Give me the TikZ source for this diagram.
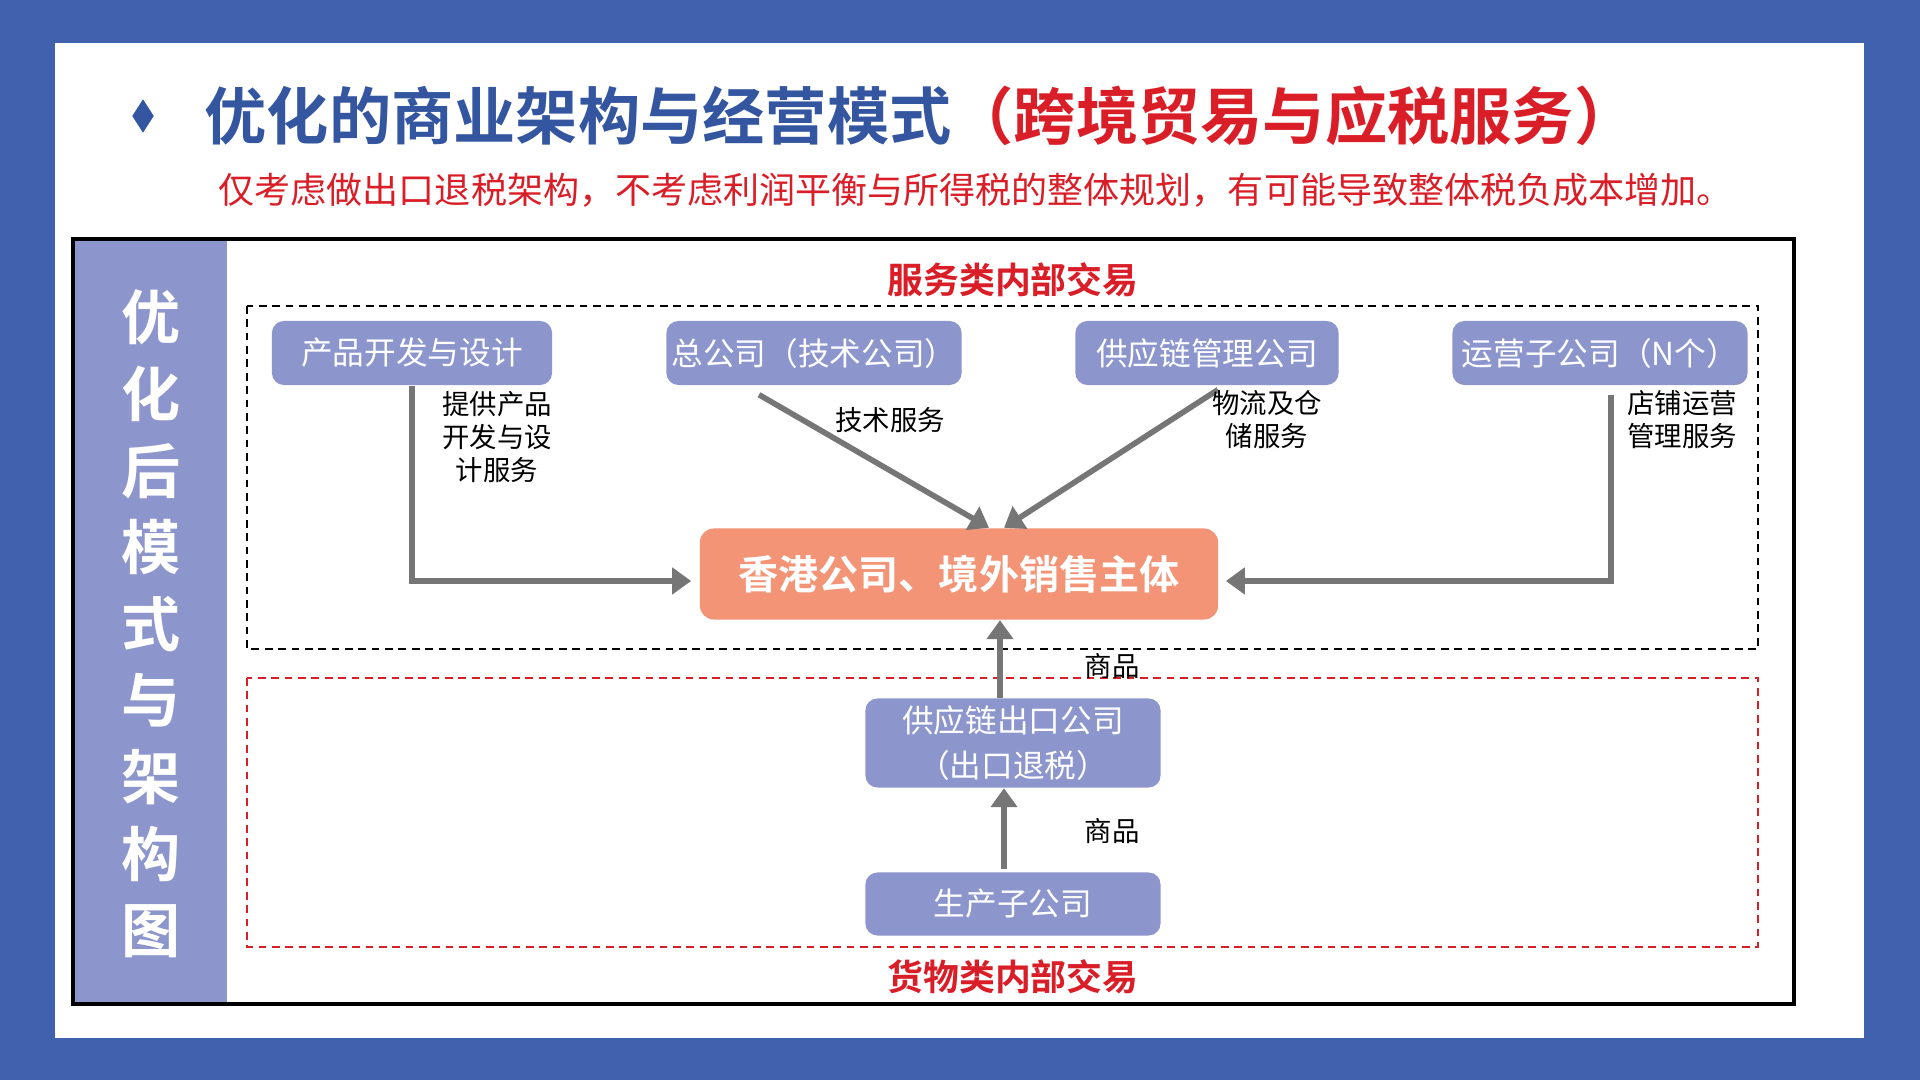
\documentclass[tikz,border=0pt]{standalone}
\usepackage{fontspec}
\setmainfont{Noto Sans CJK SC}[BoldFont={Noto Sans CJK SC Bold}]
\usetikzlibrary{positioning}
\usetikzlibrary{shapes.geometric}
\usetikzlibrary{arrows.meta}
\definecolor{frameblue}{RGB}{64,97,174}
\definecolor{titleblue}{RGB}{52,86,160}
\definecolor{titlered}{RGB}{218,30,40}
\definecolor{boxpurple}{RGB}{140,150,204}
\definecolor{salesorange}{RGB}{243,148,118}
\definecolor{arrowgray}{RGB}{118,118,118}

\tikzset{
  company/.style={rounded corners=1.2mm, fill=boxpurple, text=white,
    font=\fontsize{9}{13}\selectfont, align=center, inner sep=0pt},
  flow/.style={draw=arrowgray, line width=1.6pt,
    -{Triangle[length=1.9mm,width=2.6mm]}},
  flowlabel/.style={font=\fontsize{7.8}{9.4}\selectfont, align=center, text=black},
  groupname/.style={font=\bfseries\fontsize{10.2}{12}\selectfont, text=titlered}
}

\begin{document}
\begin{tikzpicture}[x=0.01cm, y=-0.01cm]

%---------------------------------------
% Page frame
%---------------------------------------
\fill[frameblue] (0,0) rectangle (1920,1080);
\fill[white] (55,43) rectangle (1864,1038);
\useasboundingbox (0,0) rectangle (1920,1080);

% Title and remark
\node[diamond, fill=titleblue, minimum width=0.22cm, minimum height=0.34cm, inner sep=0pt] (bullet) at (143,116) {};
\node[anchor=west, font=\bfseries\fontsize{17.7}{20}\selectfont, inner sep=0pt] (title) at (204,116)
  {\textcolor{titleblue}{优化的商业架构与经营模式}\textcolor{titlered}{（跨境贸易与应税服务）}};
\node[anchor=west, font=\fontsize{10.25}{12}\selectfont, text=titlered, inner sep=0pt] (remark) at (218,190)
  {仅考虑做出口退税架构，不考虑利润平衡与所得税的整体规划，有可能导致整体税负成本增加。};

%---------------------------------------
% Chart frame and side band
%---------------------------------------
\fill[boxpurple] (73,239) rectangle (227,1004);
\draw[line width=0.9pt] (73,239) rectangle (1794,1004);
\node[text=white, font=\bfseries\fontsize{16.8}{21.8}\selectfont, align=center, inner sep=0pt] (sidetitle) at (151,624)
  {优\\化\\后\\模\\式\\与\\架\\构\\图};

% Groups
\draw[dashed, line width=0.8pt, dash pattern=on 2.2pt off 1.6pt] (247,306) rectangle (1758,649);
\draw[dashed, titlered, line width=0.6pt, dash pattern=on 2.2pt off 1.6pt] (247,678) rectangle (1758,947);
\node[groupname] (servicegroup) at (1013,280) {服务类内部交易};
\node[groupname] (goodsgroup) at (1013,977) {货物类内部交易};

%---------------------------------------
% Companies
%---------------------------------------
\node[company, minimum width=2.8cm, minimum height=0.64cm] (design) at (412,353) {产品开发与设计};
\node[company, minimum width=2.95cm, minimum height=0.64cm] (tech) at (814,353) {总公司（技术公司）};
\node[company, minimum width=2.63cm, minimum height=0.64cm] (supply) at (1207,353) {供应链管理公司};
\node[company, minimum width=2.95cm, minimum height=0.64cm] (ops) at (1600,353) {运营子公司（N个）};

\node[rounded corners=1.4mm, fill=salesorange, text=white, font=\bfseries\fontsize{11.4}{13}\selectfont,
  minimum width=5.18cm, minimum height=0.91cm, inner sep=0pt] (sales) at (959,574) {香港公司、境外销售主体};

\node[company, minimum width=2.95cm, minimum height=0.89cm] (export) at (1013,743) {供应链出口公司\\（出口退税）};
\node[company, minimum width=2.95cm, minimum height=0.63cm] (factory) at (1013,904) {生产子公司};

%---------------------------------------
% Flows
%---------------------------------------
\draw[flow] (design.south) |- ([shift={(-8,7)}]sales.west);
\draw[flow] ([shift={(-55,9)}]tech.south) -- ([shift={(30,0)}]sales.north);
\draw[flow] ([shift={(11,4)}]supply.south) -- ([shift={(45,0)}]sales.north);
\draw[flow] ([shift={(11,9)}]ops.south) |- ([shift={(7,7)}]sales.east);
\draw[flow] ([xshift=-1.3mm]export.north) -- ([xshift=-1.3mm]export.north |- sales.south);
\draw[flow] ([shift={(-9,-3)}]factory.north) -- ([xshift=-0.9mm]export.south);

\node[flowlabel] (designlabel) at (497,437) {提供产品\\开发与设\\计服务};
\node[flowlabel] (techlabel) at (890,420) {技术服务};
\node[flowlabel] (supplylabel) at (1267,420) {物流及仓\\储服务};
\node[flowlabel] (opslabel) at (1682,420) {店铺运营\\管理服务};
\node[flowlabel] (goodslabel1) at (1112,666) {商品};
\node[flowlabel] (goodslabel2) at (1112,831) {商品};

\end{tikzpicture}
\end{document}
